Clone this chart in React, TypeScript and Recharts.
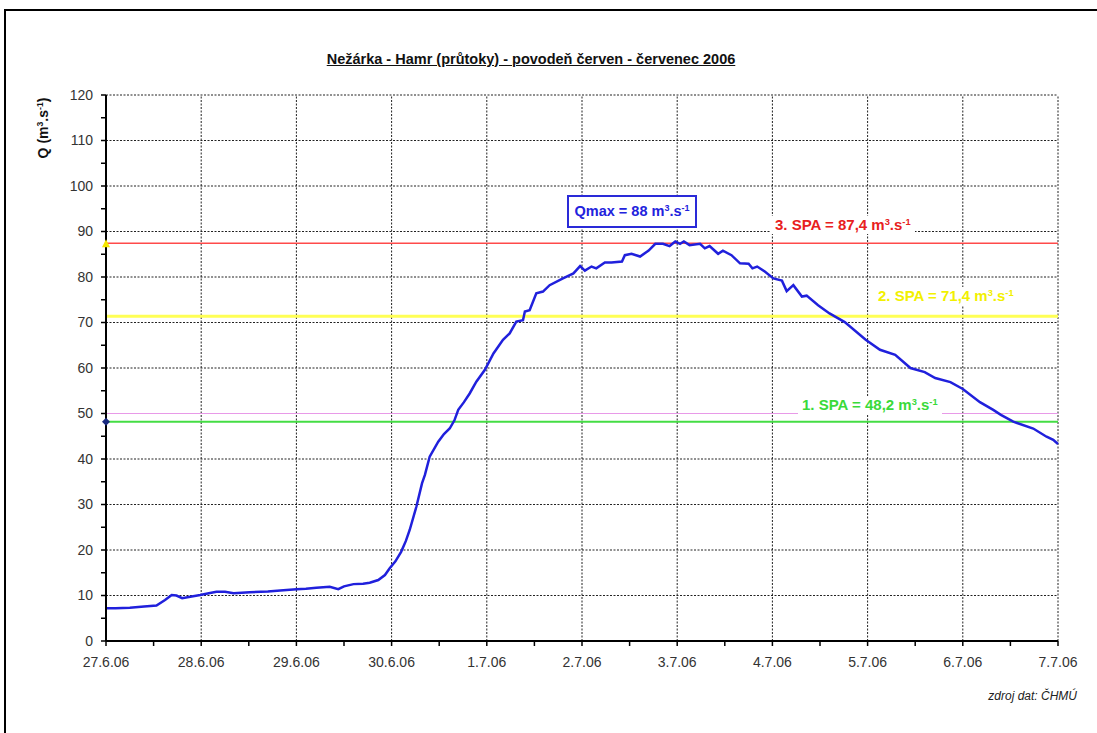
import React from "react";
import { LineChart, Line, XAxis, YAxis, ReferenceLine, ReferenceDot } from "recharts";

// ---- data ----
const dayLabels = ["27.6.06", "28.6.06", "29.6.06", "30.6.06", "1.7.06", "2.7.06", "3.7.06", "4.7.06", "5.7.06", "6.7.06", "7.7.06"];
const xTicks = [0, 0.5, 1, 1.5, 2, 2.5, 3, 3.5, 4, 4.5, 5, 5.5, 6, 6.5, 7, 7.5, 8, 8.5, 9, 9.5, 10];
const xGrid = [1, 2, 3, 4, 5, 6, 7, 8, 9, 10];
const yTicks = [0, 5, 10, 15, 20, 25, 30, 35, 40, 45, 50, 55, 60, 65, 70, 75, 80, 85, 90, 95, 100, 105, 110, 115, 120];
const yGrid = [10, 20, 30, 40, 60, 70, 80, 90, 100, 110, 120];
const yPinkLine = 50;

// time in days since 27.6.06 00:00
const flowDays = [
  0.0, 0.1, 0.25, 0.4, 0.53, 0.62, 0.69, 0.74, 0.8, 0.9, 0.99, 1.08, 1.16, 1.25, 1.34, 1.51, 1.7, 1.83,
  2.0, 2.1, 2.21, 2.35, 2.44, 2.5, 2.6, 2.7, 2.77, 2.86, 2.93, 2.98, 3.04, 3.1, 3.15, 3.19, 3.26, 3.32,
  3.35, 3.4, 3.49, 3.55, 3.61, 3.66, 3.7, 3.76, 3.82, 3.89, 3.98, 4.07, 4.17, 4.24, 4.31, 4.38, 4.4,
  4.45, 4.52, 4.59, 4.66, 4.8, 4.91, 4.98, 5.03, 5.1, 5.15, 5.24, 5.31, 5.42, 5.45, 5.52, 5.61, 5.7,
  5.77, 5.85, 5.92, 5.98, 6.03, 6.07, 6.13, 6.24, 6.29, 6.34, 6.43, 6.48, 6.57, 6.66, 6.75, 6.79, 6.84,
  6.92, 7.01, 7.1, 7.15, 7.22, 7.31, 7.36, 7.48, 7.6, 7.76, 7.98, 8.13, 8.29, 8.45, 8.6, 8.71, 8.87,
  9.0, 9.18, 9.32, 9.4, 9.53, 9.74, 9.88, 9.95, 10.0,
];
const flowValues = [
  7.2, 7.2, 7.3, 7.6, 7.8, 9.0, 10.1, 10.0, 9.4, 9.8, 10.1, 10.5, 10.8, 10.8, 10.5, 10.7, 10.9, 11.1,
  11.4, 11.5, 11.7, 11.9, 11.4, 12.0, 12.5, 12.6, 12.8, 13.4, 14.5, 16.0, 17.5, 19.6, 22.0, 24.4, 29.5, 34.7,
  36.5, 40.5, 43.8, 45.5, 46.7, 48.5, 50.8, 52.5, 54.4, 57.0, 59.6, 63.2, 66.2, 67.6, 70.2, 70.5, 72.4,
  72.7, 76.4, 76.8, 78.2, 79.7, 80.8, 82.4, 81.4, 82.3, 81.9, 83.2, 83.2, 83.4, 84.8, 85.1, 84.5, 85.8,
  87.3, 87.3, 86.8, 87.8, 87.3, 87.8, 87.0, 87.3, 86.3, 86.8, 85.1, 85.8, 84.8, 83.0, 82.9, 81.9, 82.3,
  81.2, 79.7, 79.2, 76.9, 78.2, 75.7, 75.9, 73.8, 72.0, 70.1, 66.2, 64.0, 62.9, 60.0, 59.1, 57.8, 56.9,
  55.4, 52.5, 50.8, 49.7, 48.2, 46.7, 44.9, 44.2, 43.3,
];
const spaLevels = [48.2, 71.4, 87.4];
const spaColors = ["#44dd44", "#ffff55", "#ff4a4a"];
const spaWidths = [2, 3, 1.5];
const spaNames = ["1. SPA = 48,2 m", "2. SPA = 71,4 m", "3. SPA = 87,4 m"];
const qmaxText = "Qmax = 88 m";
const titleText = "Nežárka - Hamr (průtoky) - povodeň červen - červenec 2006";
const sourceText = "zdroj dat: ČHMÚ";

const flowData = flowDays.map((d, i) => ({ d, q: flowValues[i] }));

const FONT = "'Liberation Sans', Arial, sans-serif";

const Unit = ({ base }: { base: string }) => (
  <span>
    {base}
    <sup style={{ fontSize: "0.62em", verticalAlign: "0.55em", lineHeight: 0 }}>3</sup>
    .s
    <sup style={{ fontSize: "0.62em", verticalAlign: "0.55em", lineHeight: 0 }}>-1</sup>
  </span>
);

const Triangle = (props: any) => {
  const { cx, cy } = props;
  return <polygon points={`${cx - 4},${cy + 4} ${cx + 4},${cy + 4} ${cx},${cy - 4}`} fill="#f5e800" />;
};
const Diamond = (props: any) => {
  const { cx, cy } = props;
  return <polygon points={`${cx - 4},${cy} ${cx},${cy - 4} ${cx + 4},${cy} ${cx},${cy + 4}`} fill="#1a2a80" />;
};

export default function App() {
  const labelStyle: React.CSSProperties = {
    position: "absolute",
    fontFamily: FONT,
    fontWeight: "bold",
    fontSize: 15,
    background: "#fff",
    whiteSpace: "nowrap",
    lineHeight: "18px",
    padding: "0 4px",
  };
  return (
    <div style={{ position: "relative", width: 1097, height: 733, overflow: "hidden", background: "#fff", fontFamily: FONT }}>
      <style>{`body{margin:0;}`}</style>
      <div style={{ position: "absolute", left: 4, top: 9, width: 1200, height: 800, border: "2px solid #000", boxSizing: "border-box" }} />
      <div style={{ position: "absolute", left: 0, top: 0 }}>
        <LineChart width={1097} height={733} data={flowData} margin={{ top: 95, right: 39, bottom: 62, left: 56 }}>
          <XAxis
            dataKey="d"
            type="number"
            domain={[0, 10]}
            ticks={xTicks}
            interval={0}
            tickFormatter={(v: number) => (Number.isInteger(v) ? dayLabels[v] : "")}
            height={30}
            tickSize={5}
            tickMargin={11}
            axisLine={{ stroke: "#000", strokeWidth: 2 }}
            tickLine={{ stroke: "#000", strokeWidth: 1.5 }}
            tick={{ fill: "#333", fontSize: 14, fontFamily: FONT }}
          />
          <YAxis
            type="number"
            domain={[0, 120]}
            ticks={yTicks}
            interval={0}
            tickFormatter={(v: number) => (v % 10 === 0 ? String(v) : "")}
            width={50}
            tickSize={5}
            tickMargin={8}
            axisLine={{ stroke: "#000", strokeWidth: 2 }}
            tickLine={{ stroke: "#000", strokeWidth: 1.5 }}
            tick={{ fill: "#333", fontSize: 14, fontFamily: FONT }}
          />
          {yGrid.map((v) => (
            <ReferenceLine key={"gy" + v} y={v} stroke="#222" strokeWidth={1} strokeDasharray="2 1.5" />
          ))}
          {xGrid.map((v) => (
            <ReferenceLine key={"gx" + v} x={v} stroke="#222" strokeWidth={1} strokeDasharray="2 1.5" />
          ))}
          <ReferenceLine y={yPinkLine} stroke="#e89ae8" strokeWidth={1} />
          {spaLevels.map((v, i) => (
            <ReferenceLine key={"spa" + i} y={v} stroke={spaColors[i]} strokeWidth={spaWidths[i]} />
          ))}
          <Line
            type="linear"
            dataKey="q"
            stroke="#2020dc"
            strokeWidth={2.5}
            dot={false}
            isAnimationActive={false}
          />
          <ReferenceDot x={0} y={spaLevels[2]} r={4} shape={Triangle} ifOverflow="visible" />
          <ReferenceDot x={0} y={spaLevels[0]} r={4} shape={Diamond} ifOverflow="visible" />
        </LineChart>
      </div>

      {/* title */}
      <div
        style={{
          position: "absolute",
          left: 0,
          width: 1062,
          top: 51,
          textAlign: "center",
          fontWeight: "bold",
          fontSize: 14.5,
          textDecoration: "underline",
          color: "#111",
        }}
      >
        {titleText}
      </div>

      {/* y axis label */}
      <div
        style={{
          position: "absolute",
          left: 43,
          top: 128,
          transform: "translate(-50%, -50%) rotate(-90deg)",
          fontWeight: "bold",
          fontSize: 14,
          whiteSpace: "nowrap",
          color: "#111",
        }}
      >
        <Unit base="Q (m" />)
      </div>

      {/* Qmax box */}
      <div
        style={{
          position: "absolute",
          left: 567,
          top: 195,
          width: 130,
          height: 33,
          boxSizing: "border-box",
          border: "2px solid #2a2ad8",
          background: "#fff",
          color: "#2222dd",
          fontWeight: "bold",
          fontSize: 14.5,
          lineHeight: "29px",
          textAlign: "center",
          whiteSpace: "nowrap",
        }}
      >
        <Unit base={qmaxText} />
      </div>

      {/* SPA labels */}
      <div style={{ ...labelStyle, left: 771, top: 216, color: "#e82020" }}>
        <Unit base={spaNames[2]} />
      </div>
      <div style={{ ...labelStyle, left: 874, top: 287, color: "#f2f000" }}>
        <Unit base={spaNames[1]} />
      </div>
      <div style={{ ...labelStyle, left: 798, top: 396, color: "#3ada3a" }}>
        <Unit base={spaNames[0]} />
      </div>

      {/* source */}
      <div
        style={{
          position: "absolute",
          right: 20,
          top: 689,
          fontStyle: "italic",
          fontSize: 12,
          color: "#222",
        }}
      >
        {sourceText}
      </div>
    </div>
  );
}
